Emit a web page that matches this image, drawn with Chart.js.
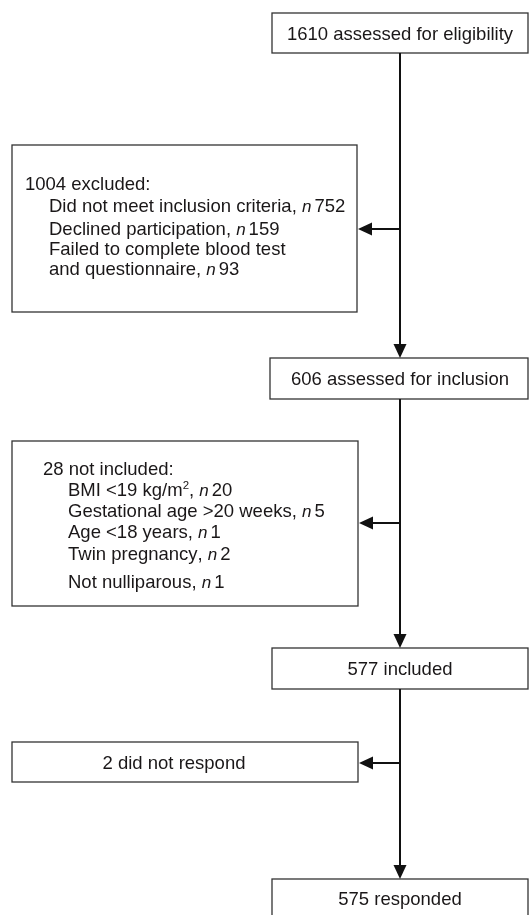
<!DOCTYPE html>
<html>
<head>
<meta charset="utf-8">
<script src="https://cdn.jsdelivr.net/npm/chart.js@4"></script>
<style>
html,body{margin:0;padding:0;background:#fff;}
#wrap{width:529px;height:915px;}
</style>
</head>
<body>
<div id="wrap"><canvas id="c" width="529" height="915"></canvas></div>
<script>
// ---- data ----
const stageLabels = ['assessed for eligibility', 'assessed for inclusion', 'included', 'responded'];
const stageCounts = [1610, 606, 577, 575];
const exclusionTitles = ['excluded:', 'not included:', 'did not respond'];
const exclusionCounts = [1004, 28, 2];
const reasons1 = ['Did not meet inclusion criteria', 'Declined participation', 'Failed to complete blood test\nand questionnaire'];
const reasons1Counts = [752, 159, 93];
const reasons2 = ['BMI <19 kg/m^2', 'Gestational age >20 weeks', 'Age <18 years', 'Twin pregnancy', 'Not nulliparous'];
const reasons2Counts = [20, 5, 1, 2, 1];
const reasons3 = [];
const reasons3Counts = [];

// ---- layout (positions / styles only) ----
const FONT = '"Liberation Sans", Arial, sans-serif';
const FS = 18.5;
const TXT = '#1a1718';
const layout = {
  spineX: 400,
  main: [
    {x0: 272, x1: 528, y0: 13, y1: 53},
    {x0: 270, x1: 528, y0: 358, y1: 399},
    {x0: 272, x1: 528, y0: 648, y1: 689},
    {x0: 272, x1: 528, y0: 879, y1: 930}
  ],
  side: [
    {x0: 12, x1: 357, y0: 145, y1: 312, arrowY: 229, titleX: 25, itemX: 49, lineYs: [183, 205, 228, 248, 268]},
    {x0: 12, x1: 358, y0: 441, y1: 606, arrowY: 523, titleX: 43, itemX: 68, lineYs: [468, 489, 510, 531, 553, 581]},
    {x0: 12, x1: 358, y0: 742, y1: 782, arrowY: 763, centerX: 174, lineYs: [762]}
  ]
};

function buildSideLines(i) {
  const lines = [];
  const title = exclusionCounts[i] + ' ' + exclusionTitles[i];
  lines.push({indent: false, segs: [{t: title}]});
  const rs = [reasons1, reasons2, reasons3][i];
  const cs = [reasons1Counts, reasons2Counts, reasons3Counts][i];
  rs.forEach((r, k) => {
    const parts = r.split('\n');
    parts.forEach((p, j) => {
      const segs = [];
      const m = p.split('^');
      segs.push({t: m[0]});
      if (m.length > 1) segs.push({t: m[1], sup: true});
      if (j === parts.length - 1) {
        segs.push({t: ', '});
        segs.push({t: 'n', it: true});
        segs.push({t: String(cs[k]), gap: 3});
      }
      lines.push({indent: true, segs});
    });
  });
  return lines;
}

function segFont(s) {
  if (s.sup) return (FS * 0.62) + 'px ' + FONT;
  if (s.it) return 'italic ' + (FS * 0.92) + 'px ' + FONT;
  return FS + 'px ' + FONT;
}

function drawSegs(ctx, segs, x, y) {
  segs.forEach(s => {
    if (s.gap) x += s.gap;
    ctx.font = segFont(s);
    ctx.fillText(s.t, x, s.sup ? y - FS * 0.38 : y);
    x += ctx.measureText(s.t).width;
  });
}

const flowPlugin = {
  id: 'flow',
  afterDraw(chart) {
    const ctx = chart.ctx;
    const X = v => chart.scales.x.getPixelForValue(v);
    const Y = v => chart.scales.y.getPixelForValue(v);
    ctx.save();
    // boxes
    ctx.strokeStyle = '#333';
    ctx.lineWidth = 1.3;
    const boxes = layout.main.concat(layout.side);
    boxes.forEach(b => {
      ctx.strokeRect(X(b.x0), Y(b.y0), X(b.x1) - X(b.x0), Y(b.y1) - Y(b.y0));
    });
    // spine with arrows
    ctx.strokeStyle = '#111';
    ctx.fillStyle = '#111';
    ctx.lineWidth = 2;
    const sx = X(layout.spineX);
    const AL = 14, AW = 6.5;
    for (let i = 0; i < layout.main.length - 1; i++) {
      const yA = Y(layout.main[i].y1), yB = Y(layout.main[i + 1].y0);
      ctx.beginPath(); ctx.moveTo(sx, yA); ctx.lineTo(sx, yB - AL + 1); ctx.stroke();
      ctx.beginPath(); ctx.moveTo(sx - AW, yB - AL); ctx.lineTo(sx + AW, yB - AL); ctx.lineTo(sx, yB); ctx.closePath(); ctx.fill();
    }
    layout.side.forEach(b => {
      const ay = Y(b.arrowY), ex = X(b.x1);
      ctx.beginPath(); ctx.moveTo(sx + 1, ay); ctx.lineTo(ex + AL - 1, ay); ctx.stroke();
      ctx.beginPath(); ctx.moveTo(ex + AL + 1, ay - AW); ctx.lineTo(ex + AL + 1, ay + AW); ctx.lineTo(ex + 1, ay); ctx.closePath(); ctx.fill();
    });
    // main texts
    ctx.fillStyle = TXT;
    ctx.textBaseline = 'alphabetic';
    ctx.font = FS + 'px ' + FONT;
    ctx.textAlign = 'center';
    layout.main.forEach((b, i) => {
      const cy = i === 3 ? Y(b.y0 + 19) : (Y(b.y0) + Y(b.y1)) / 2;
      ctx.fillText(stageCounts[i] + ' ' + stageLabels[i], X(layout.spineX), cy + FS * 0.36);
    });
    // side texts
    layout.side.forEach((b, i) => {
      const lines = buildSideLines(i);
      if (b.centerX !== undefined) {
        ctx.textAlign = 'center';
        ctx.font = FS + 'px ' + FONT;
        ctx.fillText(lines[0].segs[0].t, X(b.centerX), Y(b.lineYs[0]) + FS * 0.36);
        return;
      }
      ctx.textAlign = 'left';
      lines.forEach((ln, k) => {
        const x = X(ln.indent ? b.itemX : b.titleX);
        drawSegs(ctx, ln.segs, x, Y(b.lineYs[k]) + FS * 0.36);
      });
    });
    ctx.restore();
  }
};

new Chart(document.getElementById('c'), {
  type: 'scatter',
  data: {datasets: [{data: [], pointRadius: 0}]},
  options: {
    responsive: false,
    animation: false,
    layout: {padding: 0},
    plugins: {legend: {display: false}, tooltip: {enabled: false}},
    scales: {
      x: {type: 'linear', min: 0, max: 529, display: false},
      y: {type: 'linear', min: 0, max: 915, reverse: true, display: false}
    }
  },
  plugins: [flowPlugin]
});
</script>
</body>
</html>
